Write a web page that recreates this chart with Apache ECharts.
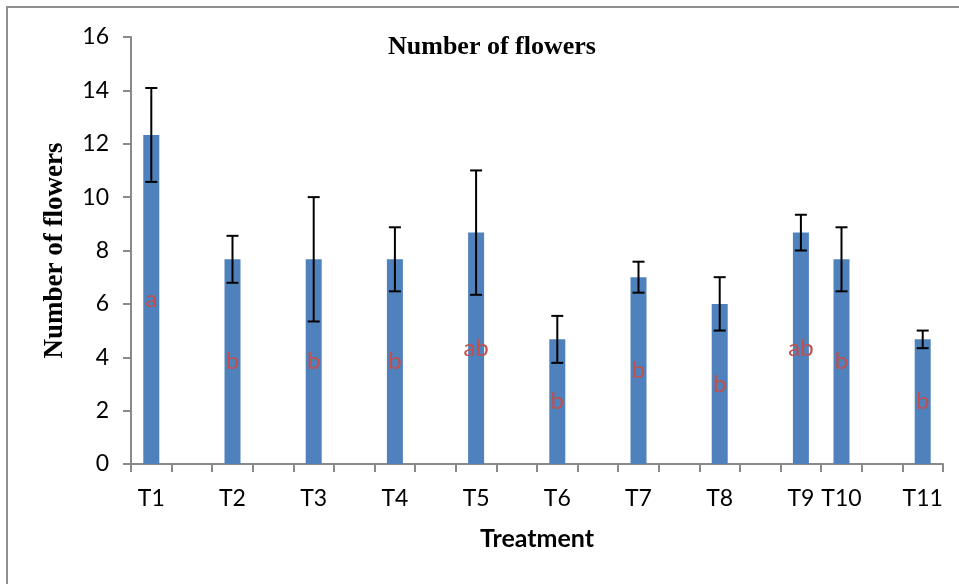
<!DOCTYPE html>
<html>
<head>
<meta charset="utf-8">
<script src="https://cdn.jsdelivr.net/npm/echarts@6/dist/echarts.min.js"></script>
<style>
  html, body { margin: 0; padding: 0; background: #fff; }
  #chart { width: 959px; height: 584px; }
</style>
</head>
<body>
<div id="chart"></div>
<script>
// treatments and where each sits on the 20-slot axis (gaps left empty, as in the original)
const treatments = ['T1', 'T2', 'T3', 'T4', 'T5', 'T6', 'T7', 'T8', 'T9', 'T10', 'T11'];
const slotIndex = [0, 2, 4, 6, 8, 10, 12, 14, 16, 17, 19];
const slotCount = 20;
const means = [12.33, 7.67, 7.67, 7.67, 8.67, 4.67, 7.0, 6.0, 8.67, 7.67, 4.67];
const errors = [1.76, 0.88, 2.33, 1.2, 2.33, 0.88, 0.58, 1.0, 0.67, 1.2, 0.33];
const letters = ['a', 'b', 'b', 'b', 'ab', 'b', 'b', 'b', 'ab', 'b', 'b'];
const yTicks = [0, 2, 4, 6, 8, 10, 12, 14, 16];

// build the slot arrays
const categories = [];
const barData = [];
const barLetters = [];
for (let i = 0; i < slotCount; i++) {
  categories.push('slot' + i);
  barData.push('-');
  barLetters.push('');
}
const slotLabel = {};
slotIndex.forEach((s, k) => {
  slotLabel['slot' + s] = treatments[k];
  barData[s] = means[k];
  barLetters[s] = letters[k];
});
const errData = slotIndex.map((s, k) => [s, means[k], errors[k]]);

const axisGray = '#898989';
const chart = echarts.init(document.getElementById('chart'));

chart.setOption({
  animation: false,
  backgroundColor: '#fff',
  title: {
    text: 'Number of flowers',
    left: 383,
    top: 29,
    textStyle: { fontFamily: 'Liberation Serif', fontWeight: 'bold', fontSize: 26, color: '#000' }
  },
  graphic: [{
    type: 'rect',
    shape: { x: 7, y: 7, width: 1200, height: 1200 },
    style: { fill: 'none', stroke: '#8f8f8f', lineWidth: 2 },
    silent: true
  }],
  grid: { left: 131, right: 16, top: 37, bottom: 120 },
  xAxis: {
    type: 'category',
    data: categories,
    name: 'Treatment',
    nameLocation: 'middle',
    nameGap: 62,
    nameTextStyle: { fontFamily: 'Lato', fontWeight: 'bold', fontSize: 25, color: '#000' },
    axisLine: { lineStyle: { color: axisGray, width: 2 } },
    axisTick: { show: true, interval: 0, length: 8, lineStyle: { color: axisGray, width: 2 } },
    axisLabel: {
      interval: 0,
      margin: 23,
      fontFamily: 'Lato',
      fontSize: 23,
      color: '#000',
      formatter: v => slotLabel[v] || ''
    },
    splitLine: { show: false }
  },
  yAxis: {
    type: 'value',
    min: 0,
    max: 16,
    interval: 2,
    name: 'Number of flowers',
    nameLocation: 'middle',
    nameGap: 62,
    nameTextStyle: { fontFamily: 'Liberation Serif', fontWeight: 'bold', fontSize: 27, color: '#000' },
    axisLine: { show: true, lineStyle: { color: axisGray, width: 2 } },
    axisTick: { show: true, length: 8, lineStyle: { color: axisGray, width: 2 } },
    axisLabel: {
      margin: 22,
      fontFamily: 'Lato',
      fontSize: 23,
      color: '#000',
      formatter: v => (yTicks.indexOf(v) >= 0 ? String(v) : '')
    },
    splitLine: { show: false }
  },
  series: [
    {
      type: 'bar',
      data: barData,
      barWidth: 16,
      itemStyle: { color: '#4F81BD' },
      label: {
        show: true,
        position: 'inside',
        fontFamily: 'Lato',
        fontSize: 24,
        color: '#C0504D',
        formatter: p => barLetters[p.dataIndex]
      }
    },
    {
      type: 'custom',
      data: errData,
      z: 5,
      renderItem: (params, api) => {
        const x = api.value(0);
        const m = api.value(1);
        const e = api.value(2);
        const hi = api.coord([x, m + e]);
        const lo = api.coord([x, m - e]);
        const w = 6;
        const style = { stroke: '#000', lineWidth: 2 };
        return {
          type: 'group',
          children: [
            { type: 'line', shape: { x1: hi[0], y1: hi[1], x2: lo[0], y2: lo[1] }, style },
            { type: 'line', shape: { x1: hi[0] - w, y1: hi[1], x2: hi[0] + w, y2: hi[1] }, style },
            { type: 'line', shape: { x1: lo[0] - w, y1: lo[1], x2: lo[0] + w, y2: lo[1] }, style }
          ]
        };
      }
    }
  ]
});
</script>
</body>
</html>
